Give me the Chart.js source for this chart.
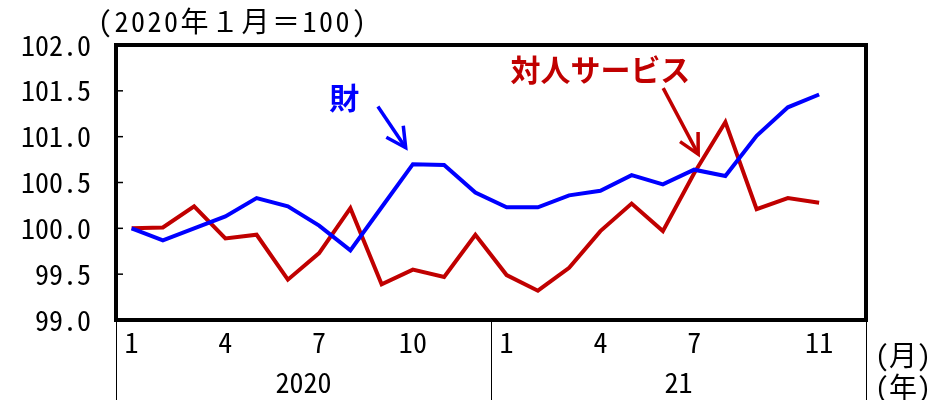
<!DOCTYPE html>
<html>
<head>
<meta charset="utf-8">
<script src="https://cdn.jsdelivr.net/npm/chart.js@4/dist/chart.umd.min.js"></script>
<style>
  html, body { margin: 0; padding: 0; background: #fff; }
  canvas { display: block; }
</style>
</head>
<body>
<canvas id="price-chart" width="948" height="400"></canvas>
<script>
// Monthly index, Jan 2020 = 100 (Dec 2021 slot left empty)
const months = ['1','2','3','4','5','6','7','8','9','10','11','12',
                '1','2','3','4','5','6','7','8','9','10','11','12'];
const monthTicks = ['1','','','4','','','7','','','10','','',
                    '1','','','4','','','7','','','','11',''];
const years = ['2020', '21'];

const goods = [100.00, 99.87, 100.00, 100.13, 100.33, 100.24, 100.03, 99.76, 100.23, 100.70, 100.69, 100.39,
               100.23, 100.23, 100.36, 100.41, 100.58, 100.48, 100.64, 100.57, 101.01, 101.32, 101.46];
const services = [100.00, 100.01, 100.24, 99.89, 99.93, 99.44, 99.73, 100.22, 99.39, 99.55, 99.47, 99.93,
                  99.49, 99.32, 99.57, 99.97, 100.27, 99.97, 100.60, 101.16, 100.21, 100.33, 100.28];

const yMin = 99.0;
const yMax = 102.0;
const yStep = 0.5;

const BLUE = '#0000ff';
const RED = '#c00000';
const MONO = "'Noto Sans Mono CJK JP', 'Noto Sans CJK JP', monospace";
const GOTHIC = "'Noto Sans CJK JP', sans-serif";

// labels with arrows, placed in data coordinates (category index, index value)
const callouts = [
    {text: '財', color: BLUE, at: [6.80, 101.43], from: [7.88, 101.33], to: [8.77, 100.88]},
    {text: '対人サービス', color: RED, at: [15.0, 101.73], from: [17.01, 101.53], to: [18.13, 100.81]}
];

function drawArrow(c, x1, y1, x2, y2, color) {
    const ang = Math.atan2(y2 - y1, x2 - x1);
    const head = 22;
    const spread = Math.PI / 6.5;
    c.save();
    c.strokeStyle = color;
    c.lineWidth = 3.5;
    c.lineCap = 'butt';
    c.lineJoin = 'miter';
    c.beginPath();
    c.moveTo(x1, y1);
    c.lineTo(x2, y2);
    c.stroke();
    c.beginPath();
    c.moveTo(x2 - head * Math.cos(ang - spread), y2 - head * Math.sin(ang - spread));
    c.lineTo(x2, y2);
    c.lineTo(x2 - head * Math.cos(ang + spread), y2 - head * Math.sin(ang + spread));
    c.stroke();
    c.restore();
}

const decorations = {
    id: 'decorations',
    afterDatasetsDraw(chart) {
        const c = chart.ctx;
        const a = chart.chartArea;
        const x = chart.scales.x;
        const y = chart.scales.y;
        const band = x.getPixelForValue(1) - x.getPixelForValue(0);

        // year separators below the plot
        c.save();
        c.strokeStyle = '#000';
        c.lineWidth = 1;
        const seps = [x.getPixelForValue(0) - band / 2,
                      x.getPixelForValue(12) - band / 2,
                      x.getPixelForValue(23) + band / 2];
        seps.forEach(px => {
            const sx = Math.round(px) + 0.5;
            c.beginPath();
            c.moveTo(sx, a.bottom);
            c.lineTo(sx, chart.height);
            c.stroke();
        });

        // inward ticks on the value axis
        c.lineWidth = 1.5;
        y.ticks.forEach(t => {
            const py = y.getPixelForValue(t.value);
            c.beginPath();
            c.moveTo(a.left, py);
            c.lineTo(a.left + 7, py);
            c.stroke();
        });

        // heavy frame round the plot
        c.lineWidth = 4;
        c.strokeRect(a.left, a.top, a.right - a.left, a.bottom - a.top);

        // base note and unit labels
        c.fillStyle = '#000';
        c.font = '28px ' + MONO;
        c.textBaseline = 'middle';
        c.textAlign = 'left';
        c.letterSpacing = '2.5px';
        c.fillText('(2020年１月＝100)', 98, 21);
        c.letterSpacing = '0px';
        c.fillText('(月)', a.right + 9, 355);
        c.fillText('(年)', a.right + 9, 387);

        // series callouts
        c.font = 'bold 30px ' + GOTHIC;
        c.textAlign = 'center';
        callouts.forEach(o => {
            c.fillStyle = o.color;
            c.fillText(o.text, x.getPixelForValue(o.at[0]), y.getPixelForValue(o.at[1]));
            drawArrow(c,
                x.getPixelForValue(o.from[0]), y.getPixelForValue(o.from[1]),
                x.getPixelForValue(o.to[0]), y.getPixelForValue(o.to[1]), o.color);
        });
        c.restore();
    }
};

const ctx = document.getElementById('price-chart').getContext('2d');

new Chart(ctx, {
    type: 'line',
    data: {
        labels: months,
        datasets: [{
            label: '財',
            data: goods,
            borderColor: BLUE,
            borderWidth: 4,
            pointRadius: 0,
            tension: 0,
            fill: false
        }, {
            label: '対人サービス',
            data: services,
            borderColor: RED,
            borderWidth: 4,
            pointRadius: 0,
            tension: 0,
            fill: false
        }]
    },
    options: {
        responsive: false,
        animation: false,
        devicePixelRatio: 1,
        layout: {
            padding: {top: 45, left: 0, right: 82, bottom: 0}
        },
        plugins: {
            legend: {display: false},
            tooltip: {enabled: false}
        },
        scales: {
            x: {
                type: 'category',
                offset: true,
                grid: {display: false, drawTicks: false},
                border: {display: false},
                ticks: {
                    autoSkip: false,
                    maxRotation: 0,
                    padding: 6,
                    color: '#000',
                    font: {family: MONO, size: 28},
                    callback: (v, i) => monthTicks[i]
                },
                afterFit: s => { s.height = 42; }
            },
            x2: {
                type: 'category',
                position: 'bottom',
                labels: years,
                offset: true,
                grid: {display: false, drawTicks: false},
                border: {display: false},
                ticks: {
                    maxRotation: 0,
                    padding: 4,
                    color: '#000',
                    font: {family: MONO, size: 28}
                },
                afterFit: s => { s.height = 38; }
            },
            y: {
                min: yMin,
                max: yMax,
                grid: {display: false, drawTicks: false},
                border: {display: false},
                ticks: {
                    stepSize: yStep,
                    padding: 25,
                    color: '#000',
                    font: {family: MONO, size: 28},
                    callback: v => Number(v).toFixed(1)
                },
                afterFit: s => { s.width = 116; }
            }
        }
    },
    plugins: [decorations]
});
</script>
</body>
</html>
